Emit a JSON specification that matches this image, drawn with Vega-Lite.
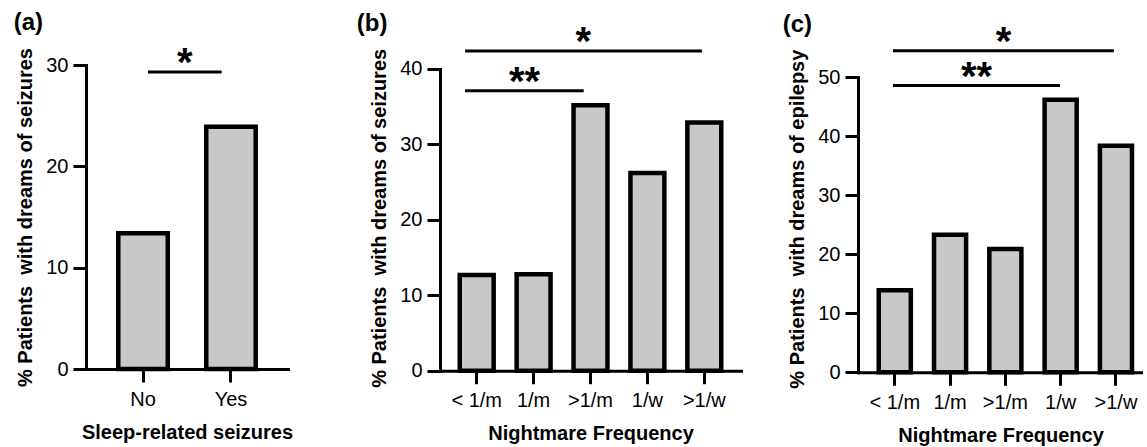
{
  "$schema": "https://vega.github.io/schema/vega-lite/v6.json",
  "padding": {"left": 13, "top": 11, "right": 0, "bottom": 0},
  "background": "white",
  "config": {
    "font": "Liberation Sans",
    "view": {"stroke": null},
    "axis": {
      "domainColor": "black", "domainWidth": 3, "domainCap": "square",
      "tickColor": "black", "tickWidth": 3, "tickSize": 13,
      "labelColor": "black", "labelFont": "Liberation Sans", "labelFontSize": 20,
      "titleColor": "black", "titleFont": "Liberation Sans", "titleFontSize": 20, "titleFontWeight": "bold",
      "grid": false
    },
    "axisX": {"labelAngle": 0, "labelPadding": 7, "titlePadding": 13},
    "axisY": {"labelPadding": 5, "titlePadding": 10},
    "title": {"font": "Liberation Sans", "fontSize": 24, "fontWeight": "bold", "anchor": "start", "frame": "bounds", "color": "black"}
  },
  "align": "none",
  "spacing": 63,
  "hconcat": [
    {
      "width": 202, "height": 304,
      "title": {"text": "(a)", "offset": 9, "dx": -2},
      "layer": [
        {
          "data": {"values": [{"group": "No", "pct": 13.4}, {"group": "Yes", "pct": 23.9}]},
          "mark": {"type": "bar", "fill": "#c8c8c8", "stroke": "black", "strokeWidth": 4.5},
          "encoding": {
            "x": {"field": "group", "type": "nominal", "scale": {"domain": ["No", "Yes"], "paddingInner": 0.4375, "paddingOuter": 0.367}, "axis": {"title": "Sleep-related seizures"}},
            "y": {"field": "pct", "type": "quantitative", "scale": {"domain": [0, 30], "nice": false}, "axis": {"values": [0, 10, 20, 30], "title": "% Patients\u00a0 with dreams of seizures"}}
          }
        },
        {
          "data": {"values": [{"from": "No", "to": "Yes", "level": 29.3}]},
          "mark": {"type": "rule", "strokeWidth": 3, "color": "black", "clip": false},
          "encoding": {
            "x": {"field": "from", "type": "nominal", "bandPosition": 0.6, "scale": {"domain": ["No", "Yes"]}},
            "x2": {"field": "to", "bandPosition": 0.31},
            "y": {"field": "level", "type": "quantitative"}
          }
        },
        {
          "data": {"values": [{"at": "No", "level": 29.3, "label": "*"}]},
          "mark": {"type": "text", "font": "Liberation Sans", "fontSize": 40, "fontWeight": "bold", "baseline": "alphabetic", "align": "center", "dy": 4, "color": "black", "clip": false},
          "encoding": {
            "x": {"field": "at", "type": "nominal", "bandPosition": 1.345, "scale": {"domain": ["No", "Yes"]}},
            "y": {"field": "level", "type": "quantitative"},
            "text": {"field": "label"}
          }
        }
      ]
    },
    {
      "align": "none",
      "spacing": 41,
      "hconcat": [
        {
          "width": 301, "height": 305.7,
          "title": {"text": "(b)", "offset": -13, "dx": -13},
          "layer": [
            {
              "data": {"values": [
                {"freq": "< 1/m", "pct": 12.7},
                {"freq": "1/m", "pct": 12.8},
                {"freq": ">1/m", "pct": 35.2},
                {"freq": "1/w", "pct": 26.2},
                {"freq": ">1/w", "pct": 32.9}
              ]},
              "mark": {"type": "bar", "fill": "#c8c8c8", "stroke": "black", "strokeWidth": 4.5},
              "encoding": {
                "x": {"field": "freq", "type": "nominal", "scale": {"domain": ["< 1/m", "1/m", ">1/m", "1/w", ">1/w"], "paddingInner": 0.404, "paddingOuter": 0.347}, "axis": {"title": "Nightmare Frequency"}},
                "y": {"field": "pct", "type": "quantitative", "scale": {"domain": [0, 40.53], "nice": false}, "axis": {"values": [0, 10, 20, 30, 40], "domainDash": [301.7, 60], "title": "% Patients\u00a0 with dreams of seizures"}}
              }
            },
            {
              "data": {"values": [{"from": "< 1/m", "to": ">1/m", "level": 37.1}]},
              "mark": {"type": "rule", "strokeWidth": 3, "color": "black", "clip": false},
              "encoding": {
                "x": {"field": "from", "type": "nominal", "bandPosition": 0.157, "scale": {"domain": ["< 1/m", "1/m", ">1/m", "1/w", ">1/w"]}},
                "x2": {"field": "to", "bandPosition": 0.3},
                "y": {"field": "level", "type": "quantitative"}
              }
            },
            {
              "data": {"values": [{"from": "< 1/m", "to": ">1/w", "level": 42.4}]},
              "mark": {"type": "rule", "strokeWidth": 3, "color": "black", "clip": false},
              "encoding": {
                "x": {"field": "from", "type": "nominal", "bandPosition": 0.157, "scale": {"domain": ["< 1/m", "1/m", ">1/m", "1/w", ">1/w"]}},
                "x2": {"field": "to", "bandPosition": 0.43},
                "y": {"field": "level", "type": "quantitative"}
              }
            },
            {
              "data": {"values": [{"at": "1/m", "level": 37.1, "label": "**"}]},
              "mark": {"type": "text", "font": "Liberation Sans", "fontSize": 40, "fontWeight": "bold", "baseline": "alphabetic", "align": "center", "dy": 4, "color": "black", "clip": false},
              "encoding": {
                "x": {"field": "at", "type": "nominal", "bandPosition": 0.23, "scale": {"domain": ["< 1/m", "1/m", ">1/m", "1/w", ">1/w"]}},
                "y": {"field": "level", "type": "quantitative"},
                "text": {"field": "label"}
              }
            },
            {
              "data": {"values": [{"at": ">1/m", "level": 42.4, "label": "*"}]},
              "mark": {"type": "text", "font": "Liberation Sans", "fontSize": 40, "fontWeight": "bold", "baseline": "alphabetic", "align": "center", "dy": 4, "color": "black", "clip": false},
              "encoding": {
                "x": {"field": "at", "type": "nominal", "bandPosition": 0.29, "scale": {"domain": ["< 1/m", "1/m", ">1/m", "1/w", ">1/w"]}},
                "y": {"field": "level", "type": "quantitative"},
                "text": {"field": "label"}
              }
            }
          ]
        },
        {
          "width": 285, "height": 307.3,
          "title": {"text": "(c)", "offset": -14, "dx": -5},
          "layer": [
            {
              "data": {"values": [
                {"freq": "< 1/m", "pct": 13.9},
                {"freq": "1/m", "pct": 23.3},
                {"freq": ">1/m", "pct": 20.9},
                {"freq": "1/w", "pct": 46.2},
                {"freq": ">1/w", "pct": 38.4}
              ]},
              "mark": {"type": "bar", "fill": "#c8c8c8", "stroke": "black", "strokeWidth": 4.5},
              "encoding": {
                "x": {"field": "freq", "type": "nominal", "scale": {"domain": ["< 1/m", "1/m", ">1/m", "1/w", ">1/w"], "paddingInner": 0.42, "paddingOuter": 0.287, "align": 0.653}, "axis": {"title": "Nightmare Frequency"}},
                "y": {"field": "pct", "type": "quantitative", "scale": {"domain": [0, 52.08], "nice": false}, "axis": {"values": [0, 10, 20, 30, 40, 50], "domainDash": [295, 60], "title": "% Patients\u00a0 with dreams of epilepsy"}}
              }
            },
            {
              "data": {"values": [{"from": "< 1/m", "to": "1/w", "level": 48.6}]},
              "mark": {"type": "rule", "strokeWidth": 3, "color": "black", "clip": false},
              "encoding": {
                "x": {"field": "from", "type": "nominal", "bandPosition": 0.446, "scale": {"domain": ["< 1/m", "1/m", ">1/m", "1/w", ">1/w"]}},
                "x2": {"field": "to", "bandPosition": 0.476},
                "y": {"field": "level", "type": "quantitative"}
              }
            },
            {
              "data": {"values": [{"from": "< 1/m", "to": ">1/w", "level": 54.5}]},
              "mark": {"type": "rule", "strokeWidth": 3, "color": "black", "clip": false},
              "encoding": {
                "x": {"field": "from", "type": "nominal", "bandPosition": 0.446, "scale": {"domain": ["< 1/m", "1/m", ">1/m", "1/w", ">1/w"]}},
                "x2": {"field": "to", "bandPosition": 0.437},
                "y": {"field": "level", "type": "quantitative"}
              }
            },
            {
              "data": {"values": [{"at": ">1/m", "level": 48.6, "label": "**"}]},
              "mark": {"type": "text", "font": "Liberation Sans", "fontSize": 40, "fontWeight": "bold", "baseline": "alphabetic", "align": "center", "dy": 4, "color": "black", "clip": false},
              "encoding": {
                "x": {"field": "at", "type": "nominal", "bandPosition": -0.4, "scale": {"domain": ["< 1/m", "1/m", ">1/m", "1/w", ">1/w"]}},
                "y": {"field": "level", "type": "quantitative"},
                "text": {"field": "label"}
              }
            },
            {
              "data": {"values": [{"at": ">1/m", "level": 54.5, "label": "*"}]},
              "mark": {"type": "text", "font": "Liberation Sans", "fontSize": 40, "fontWeight": "bold", "baseline": "alphabetic", "align": "center", "dy": 4, "color": "black", "clip": false},
              "encoding": {
                "x": {"field": "at", "type": "nominal", "bandPosition": 0.44, "scale": {"domain": ["< 1/m", "1/m", ">1/m", "1/w", ">1/w"]}},
                "y": {"field": "level", "type": "quantitative"},
                "text": {"field": "label"}
              }
            }
          ]
        }
      ]
    }
  ]
}
